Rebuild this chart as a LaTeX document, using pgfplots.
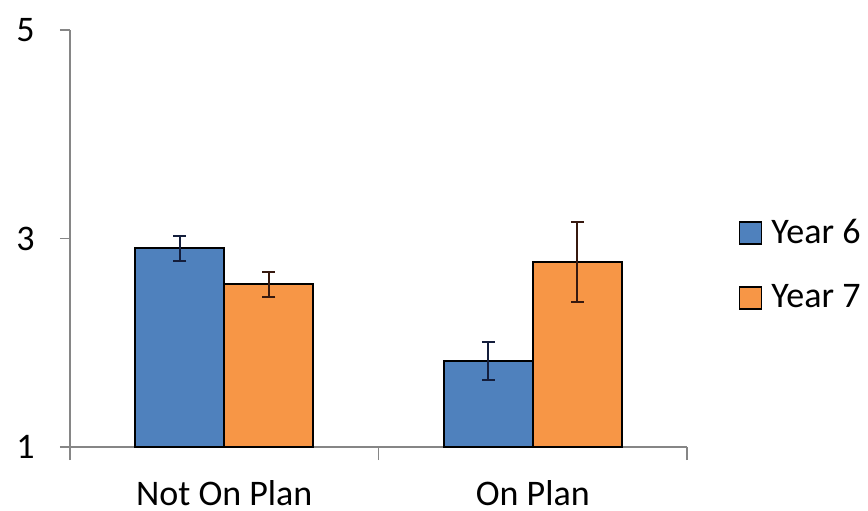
\documentclass[border=0pt]{standalone}
\usepackage{pgfplots}
\pgfplotsset{compat=1.18}
\usepackage{fontspec}
\setmainfont{Carlito}
\definecolor{yblue}{RGB}{79,129,189}
\definecolor{yorange}{RGB}{247,150,70}
\definecolor{axgray}{RGB}{134,134,134}
\definecolor{errblue}{RGB}{20,30,60}
\definecolor{errorange}{RGB}{55,25,15}
\begin{document}
\begin{tikzpicture}
\useasboundingbox (-35bp,-32bp) rectangle (399bp,223.5bp);
\begin{axis}[
  at={(0,0)}, anchor=south west,
  scale only axis,
  width=308.5bp, height=208.5bp,
  xmin=-0.5, xmax=1.5,
  ymin=1, ymax=5,
  axis x line*=bottom,
  axis y line*=left,
  axis line style={axgray, line width=0.75bp, -},
  ytick={1,3,5},
  xtick={-0.5,0.5,1.5},
  x tick label as interval,
  xticklabels={Not On Plan, On Plan},
  tick align=outside,
  major tick length=5bp,
  xtick style={axgray, line width=0.75bp, /pgfplots/major tick length=6.5bp},
  ytick style={axgray, line width=0.75bp},
  /pgf/number format/assume math mode=true,
  tick label style={font=\fontsize{18bp}{20bp}\selectfont, text=black},
  yticklabel style={inner sep=0pt, xshift=-12.5bp},
  xticklabel style={inner sep=0pt, yshift=-11.5bp},
  ybar=0pt,
  bar width=44.5bp,
  legend style={at={(axis description cs:1.083,0.557)}, anchor=north west, draw=none, fill=none, inner sep=0pt,
    font=\fontsize{18bp}{20bp}\selectfont, row sep=15.25bp, /tikz/every even column/.append style={column sep=0bp}},
  legend cell align=left,
  legend image code/.code={\draw[#1,draw=black,line width=0.9bp] (0bp,-5.5bp) rectangle (11bp,5.5bp);\path (13.5bp,0bp);},
  clip=false,
]
\addplot[fill=yblue, draw=black, line width=1bp, bar shift=-22.25bp,
  error bars/.cd, y dir=both, y explicit,
  error bar style={errblue, line width=1bp},
  error mark options={errblue, rotate=90, mark size=3.25bp, line width=1bp}]
  coordinates {(0,2.905) +- (0,0.12) (1,1.825) +- (0,0.185)};
\addlegendentry{Year 6}
\addplot[fill=yorange, draw=black, line width=1bp, bar shift=22.25bp,
  error bars/.cd, y dir=both, y explicit,
  error bar style={errorange, line width=1bp},
  error mark options={errorange, rotate=90, mark size=3.25bp, line width=1bp}]
  coordinates {(0,2.562) +- (0,0.12) (1,2.775) +- (0,0.38)};
\addlegendentry{Year 7}
\end{axis}
\end{tikzpicture}
\end{document}
